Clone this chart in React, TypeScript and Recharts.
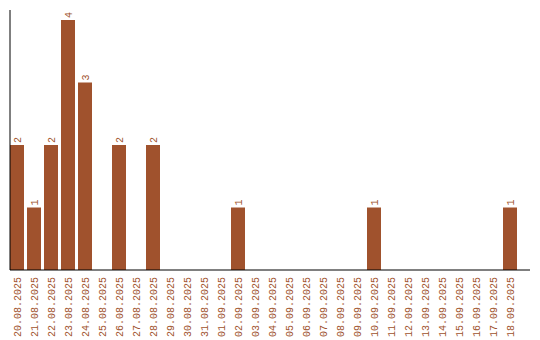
import { BarChart, Bar, XAxis, YAxis, LabelList } from 'recharts'

// ── Daily counts ─────────────────────────────────────────────────────────────

const DATES = [
  '20.08.2025', '21.08.2025', '22.08.2025', '23.08.2025', '24.08.2025', '25.08.2025',
  '26.08.2025', '27.08.2025', '28.08.2025', '29.08.2025', '30.08.2025', '31.08.2025',
  '01.09.2025', '02.09.2025', '03.09.2025', '04.09.2025', '05.09.2025', '06.09.2025',
  '07.09.2025', '08.09.2025', '09.09.2025', '10.09.2025', '11.09.2025', '12.09.2025',
  '13.09.2025', '14.09.2025', '15.09.2025', '16.09.2025', '17.09.2025', '18.09.2025',
]

const COUNTS = [
  2, 1, 2, 4, 3, 0,
  2, 0, 2, 0, 0, 0,
  0, 1, 0, 0, 0, 0,
  0, 0, 0, 1, 0, 0,
  0, 0, 0, 0, 0, 1,
]

const data = DATES.map((date, i) => ({ date, count: COUNTS[i] }))

const BROWN = '#A0522D'
const FONT = '"Liberation Mono", "Courier New", monospace'

// ── Rotated date ticks ───────────────────────────────────────────────────────

function DateTick({ x, y, payload }: { x: number; y: number; payload: { value: string } }) {
  return (
    <text
      x={0} y={0}
      transform={`translate(${x + 3.5},${y - 1}) rotate(-90)`}
      textAnchor="end"
      fill={BROWN}
      style={{ fontSize: 10, fontFamily: FONT }}
    >
      {payload.value}
    </text>
  )
}

// ── Value labels on top of bars ──────────────────────────────────────────────

function ValueLabel(props: { x?: number; y?: number; width?: number; value?: number }) {
  const { x = 0, y = 0, width = 0, value = 0 } = props
  if (!value) return null
  return (
    <text
      x={0} y={0}
      transform={`translate(${x + width / 2 + 3.5},${y - 2}) rotate(-90)`}
      textAnchor="start"
      fill={BROWN}
      style={{ fontSize: 10, fontFamily: FONT }}
    >
      {value}
    </text>
  )
}

export default function App() {
  return (
    <div style={{ position: 'absolute', left: 0, top: 0, background: '#fff' }}>
      <BarChart
        width={540} height={340} data={data}
        margin={{ top: 10, right: 10, bottom: 0, left: 0 }}
        barCategoryGap={1.5}
      >
        <XAxis
          dataKey="date" interval={0} height={70}
          padding={{ left: -1.5, right: 11.5 }}
          axisLine={{ stroke: '#000' }} tickLine={false}
          tick={(p: any) => <DateTick {...p} />}
        />
        <YAxis
          width={10} domain={[0, 4.16]} tick={false} tickLine={false}
          axisLine={{ stroke: '#000' }}
        />
        <Bar dataKey="count" fill={BROWN} isAnimationActive={false}>
          <LabelList dataKey="count" content={(p: any) => <ValueLabel {...p} />} />
        </Bar>
      </BarChart>
    </div>
  )
}
